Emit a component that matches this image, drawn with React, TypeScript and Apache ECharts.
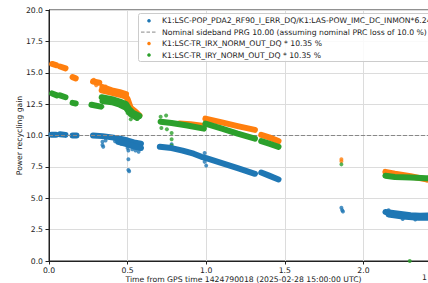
import React, { useEffect, useRef } from "react";
import * as echarts from "echarts";

// x: hours from GPS time 1424790018, y: power recycling gain
const xTicks = [0, 0.5, 1.0, 1.5, 2.0, 2.5];
const yTicks = [0, 2.5, 5, 7.5, 10, 12.5, 15, 17.5, 20];
const nominalPRG = 10.0;

const legendLabels = [
  "K1:LSC-POP_PDA2_RF90_I_ERR_DQ/K1:LAS-POW_IMC_DC_INMON*6.24",
  "Nominal sideband PRG 10.00 (assuming nominal PRC loss of 10.0 %)",
  "K1:LSC-TR_IRX_NORM_OUT_DQ * 10.35 %",
  "K1:LSC-TR_IRY_NORM_OUT_DQ * 10.35 %",
];
const xLabel = "Time from GPS time 1424790018 (2025-02-28 15:00:00 UTC)";
const yLabel = "Power recycling gain";

// POP / IMC (blue)
const popBands = [
  [[0.015, 10.05], [0.045, 10.05]],
  [[0.07, 10.1], [0.105, 10.05]],
  [[0.15, 10.0], [0.175, 10.0]],
  [[0.28, 10.0], [0.34, 9.95], [0.4, 9.85], [0.45, 9.75], [0.5, 9.6], [0.54, 9.45], [0.585, 9.35]],
  [[0.44, 9.5], [0.5, 9.3], [0.55, 9.1], [0.585, 9.0]],
  [[0.705, 9.1], [0.78, 9.0], [0.85, 8.8], [0.92, 8.55], [0.97, 8.3], [1.0, 8.2], [1.1, 7.8], [1.2, 7.4], [1.31, 6.95]],
  [[1.35, 7.05], [1.4, 6.8], [1.46, 6.5]],
  [[2.14, 3.9], [2.2, 3.8], [2.3, 3.65], [2.36, 3.6], [2.45, 3.65]],
  [[2.16, 3.7], [2.25, 3.55], [2.35, 3.45], [2.45, 3.45]],
];
const popDots = [
  [0.34, 9.5], [0.34, 9.25], [0.345, 9.1], [0.47, 9.4], [0.5, 9.2], [0.5, 9.0], [0.505, 8.8],
  [0.505, 8.1], [0.505, 7.25], [0.51, 7.15], [0.53, 8.9], [0.55, 8.8], [0.57, 8.7], [0.78, 9.3],
  [0.99, 8.6], [0.99, 7.9], [1.0, 7.6], [1.86, 4.25], [1.865, 4.05], [1.87, 3.95],
  [2.43, 10.0], [2.43, 9.8], [2.43, 9.6], [2.43, 9.4], [2.43, 9.2],
  [2.16, 4.05], [2.25, 3.35], [2.33, 3.3], [0.36, 9.6], [0.42, 9.55], [0.46, 9.35],
];

// IRX (orange)
const irxBands = [
  [[0.02, 15.7], [0.045, 15.6]],
  [[0.07, 15.5], [0.105, 15.35]],
  [[0.15, 14.65], [0.17, 14.55]],
  [[0.28, 14.3], [0.32, 14.2]],
  [[0.335, 13.6], [0.4, 13.4], [0.45, 13.25], [0.49, 13.1], [0.5, 12.9], [0.52, 12.2], [0.55, 11.9], [0.575, 11.6]],
  [[0.34, 13.85], [0.4, 13.6], [0.45, 13.45], [0.49, 13.3]],
  [[0.83, 10.95], [0.9, 10.9], [0.985, 10.75]],
  [[0.995, 11.35], [1.1, 11.05], [1.2, 10.75], [1.31, 10.45]],
  [[1.35, 10.05], [1.4, 9.85], [1.46, 9.55]],
  [[2.14, 7.1], [2.2, 6.95], [2.3, 6.75], [2.4, 6.5], [2.45, 6.4]],
];
const irxDots = [
  [0.285, 14.45], [0.3, 14.0], [0.335, 13.95], [0.36, 13.9], [1.86, 8.1], [1.86, 7.95],
];

// IRY (green)
const iryBands = [
  [[0.02, 13.35], [0.05, 13.2]],
  [[0.07, 13.2], [0.105, 13.05]],
  [[0.15, 12.6], [0.17, 12.55]],
  [[0.27, 12.45], [0.33, 12.3]],
  [[0.335, 13.05], [0.4, 12.9], [0.45, 12.7], [0.49, 12.5], [0.51, 12.1], [0.535, 11.8], [0.575, 11.55]],
  [[0.34, 12.75], [0.4, 12.65], [0.45, 12.45], [0.49, 12.2], [0.52, 11.7], [0.56, 11.4]],
  [[0.71, 11.1], [0.78, 11.0], [0.88, 10.8], [0.985, 10.55]],
  [[0.995, 10.95], [1.1, 10.55], [1.2, 10.15], [1.31, 9.75]],
  [[1.35, 9.55], [1.4, 9.35], [1.46, 9.1]],
  [[2.14, 6.8], [2.2, 6.7], [2.3, 6.65], [2.4, 6.6], [2.45, 6.55]],
];
const iryDots = [
  [0.71, 11.5], [0.715, 10.6], [0.745, 11.6], [0.75, 10.5], [0.78, 10.2], [0.78, 9.7], [0.78, 9.2],
  [1.86, 7.7], [2.295, 0.0], [0.5, 11.8], [0.52, 11.3], [0.36, 12.7], [0.34, 12.3],
];

const BLUE = "#1f77b4";
const ORANGE = "#ff7f0e";
const GREEN = "#2ca02c";
const FONT = "DejaVu Sans";
const FS = 7.7;

function bandSeries(bands: number[][][], color: string) {
  return bands.map((seg) => ({
    type: "line",
    data: seg,
    symbol: "none",
    clip: true,
    lineStyle: { color, width: 6, cap: "round", join: "round" },
    silent: true,
  }));
}
function dotSeries(dots: number[][], color: string) {
  return {
    type: "scatter",
    data: dots,
    symbol: "circle",
    symbolSize: 4,
    clip: true,
    itemStyle: { color },
    silent: true,
  };
}

export default function App() {
  const ref = useRef<HTMLDivElement>(null);
  useEffect(() => {
    if (!ref.current) return;
    const chart = echarts.init(ref.current, undefined, { renderer: "svg" });
    const gx = 49, gy = 10, gw = 393, gh = 251;
    const rowY = [20.7, 32.1, 43.5, 55];
    const legendX = 138.5;
    const graphics: any[] = [
      {
        type: "rect",
        z: 100,
        shape: { x: legendX, y: 13.5, width: 300, height: 48, r: 2 },
        style: { fill: "rgba(255,255,255,0.85)", stroke: "#cccccc", lineWidth: 1 },
      },
      { type: "circle", z: 101, shape: { cx: 149, cy: rowY[0], r: 1.8 }, style: { fill: BLUE } },
      {
        type: "line",
        z: 101,
        shape: { x1: 141, y1: rowY[1], x2: 157, y2: rowY[1] },
        style: { stroke: "#888888", lineWidth: 1, lineDash: [3.5, 2] },
      },
      { type: "circle", z: 101, shape: { cx: 149, cy: rowY[2], r: 1.8 }, style: { fill: ORANGE } },
      { type: "circle", z: 101, shape: { cx: 149, cy: rowY[3], r: 1.8 }, style: { fill: GREEN } },
      ...legendLabels.map((t, i) => ({
        type: "text",
        z: 101,
        x: 162,
        y: rowY[i],
        style: { text: t, fill: "#222", font: `${FS}px "${FONT}"`, verticalAlign: "middle", align: "left" },
      })),
      {
        type: "text",
        x: 243.5,
        y: 279,
        style: { text: xLabel, fill: "#222", font: `${FS}px "${FONT}"`, align: "center", verticalAlign: "middle" },
      },
      {
        type: "text",
        x: 19,
        y: 135.5,
        rotation: Math.PI / 2,
        style: { text: yLabel, fill: "#222", font: `${FS}px "${FONT}"`, align: "center", verticalAlign: "middle" },
      },
      {
        type: "text",
        x: 422,
        y: 277,
        style: { text: "1", fill: "#222", font: `${FS}px "${FONT}"`, align: "left", verticalAlign: "middle" },
      },
    ];

    chart.setOption({
      animation: false,
      grid: {
        left: gx, top: gy, width: gw, height: gh,
        show: true, borderColor: "#222", borderWidth: 1, backgroundColor: "transparent",
      },
      xAxis: {
        type: "value",
        min: xTicks[0],
        max: xTicks[xTicks.length - 1],
        interval: 0.5,
        axisLine: { show: true, lineStyle: { color: "#222", width: 1 } },
        axisTick: { show: true, inside: false, length: 3.5, lineStyle: { color: "#222" } },
        splitLine: { show: true, lineStyle: { color: "#dcdcdc", width: 1 } },
        axisLabel: {
          formatter: (v: number) => (v < 2.4 ? v.toFixed(1) : ""),
          fontSize: FS, fontFamily: FONT, color: "#222", margin: 5,
        },
      },
      yAxis: {
        type: "value",
        min: yTicks[0],
        max: yTicks[yTicks.length - 1],
        interval: 2.5,
        axisLine: { show: true, lineStyle: { color: "#222", width: 1 } },
        axisTick: { show: true, inside: false, length: 3.5, lineStyle: { color: "#222" } },
        splitLine: { show: true, lineStyle: { color: "#dcdcdc", width: 1 } },
        axisLabel: {
          formatter: (v: number) => v.toFixed(1),
          fontSize: FS, fontFamily: FONT, color: "#222", margin: 6,
        },
      },
      graphic: graphics,
      series: [
        ...bandSeries(popBands, BLUE),
        dotSeries(popDots, BLUE),
        {
          type: "line",
          data: [[xTicks[0], nominalPRG], [xTicks[xTicks.length - 1], nominalPRG]],
          symbol: "none",
          lineStyle: { color: "#888888", width: 1, type: [4, 2] },
          silent: true,
        },
        ...bandSeries(irxBands, ORANGE),
        dotSeries(irxDots, ORANGE),
        ...bandSeries(iryBands, GREEN),
        dotSeries(iryDots, GREEN),
      ],
    });
    return () => chart.dispose();
  }, []);
  return (
    <div
      style={{
        position: "absolute", left: 0, top: 0, width: 428, height: 283,
        overflow: "hidden", background: "#fff",
      }}
    >
      <div ref={ref} style={{ width: 470, height: 283 }} />
    </div>
  );
}
